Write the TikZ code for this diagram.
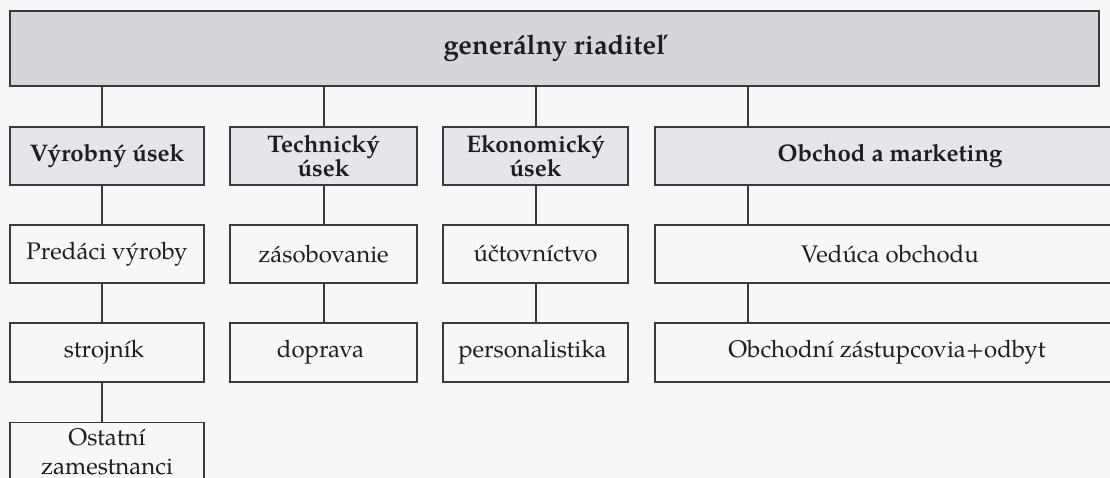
\documentclass[tikz,border=0pt]{standalone}
\usepackage{fontspec}
\setmainfont{TeX Gyre Pagella}
\definecolor{linegray}{HTML}{3A3A3E}
\definecolor{headgray}{HTML}{D6D6DA}
\definecolor{unitgray}{HTML}{E6E6EA}
\definecolor{paper}{HTML}{F7F7FA}
\definecolor{ink}{HTML}{1E1E22}
\tikzset{
	box/.style={draw=linegray, line width=1.3pt, align=center, inner sep=0pt,
		text=ink, font=\fontsize{24}{24}\selectfont},
	headbox/.style={box, fill=headgray, minimum height=75, font=\fontsize{27.3}{30}\selectfont\bfseries},
	unitbox/.style={box, fill=unitgray, minimum height=58, font=\fontsize{24}{24}\selectfont\bfseries},
	subbox/.style={box, fill=paper, minimum height=58},
	link/.style={draw=linegray, line width=1.3pt}
}
\begin{document}
\begin{tikzpicture}[x=1pt, y=-1pt]
	\useasboundingbox (0,0) rectangle (1110,478);
	\fill[paper] (0,0) rectangle (1110,478);
	\clip (0,0) rectangle (1110,478);
	% top
	\node[headbox, minimum width=1089] (head) at (554.5,48.5) {generálny riaditeľ};
	% columns: x / width / connector shift / unit / first / second
	\foreach \posx/\boxw/\shift/\unit/\first/\second [count=\index] in
		{ 107/194/-5/{Výrobný úsek}/{Predáci výroby}/{strojník}
		, 323.5/187/0.5/{Technický\\úsek}/{zásobovanie}/{doprava}
		, 535.5/185/0.5/{Ekonomický\\úsek}/{účtovníctvo}/{personalistika}
		, 890/470/-142/{Obchod a marketing}/{Vedúca obchodu}/{Obchodní zástupcovia+odbyt}
		}
	{
		\node[unitbox, minimum width=\boxw] (u_\index) at (\posx,156) {\unit};
		\node[subbox, minimum width=\boxw] (s_\index) at (\posx,254) {\first};
		\node[subbox, minimum width=\boxw, minimum height=59] (t_\index) at (\posx,352.5) {\second};
		% edges
		\draw[link] ([xshift=\shift]u_\index.north) -- ([xshift=\shift]u_\index.north |- head.south);
		\draw[link] ([xshift=\shift]u_\index.south) -- ([xshift=\shift]u_\index.south |- s_\index.north);
		\draw[link] ([xshift=\shift]s_\index.south) -- ([xshift=\shift]s_\index.south |- t_\index.north);
	}
	% last box under first column
	\node[subbox, anchor=north, minimum width=194, inner ysep=6,
		font=\fontsize{24}{29}\selectfont] (rest) at (107,422) {Ostatní\\zamestnanci};
	\draw[link] ([xshift=-5]t_1.south) -- ([xshift=-5]t_1.south |- rest.north);
\end{tikzpicture}
\end{document}
